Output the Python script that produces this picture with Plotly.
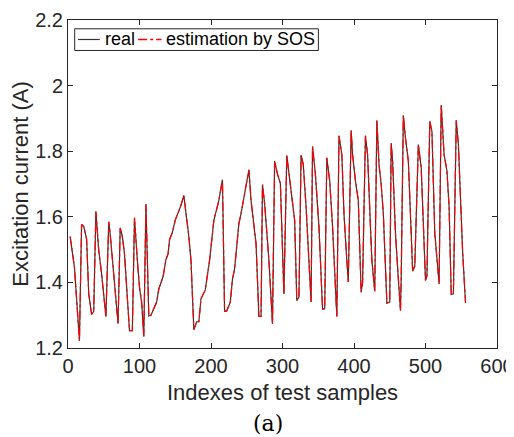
import plotly.graph_objects as go

sample_index = [3, 9, 16, 19, 22, 26, 29, 33, 36, 39, 43, 47, 53, 57, 59, 65, 70, 73, 76, 79,
                86, 90, 93, 97, 100, 103, 106, 109, 113, 116, 124, 127, 133, 137, 140, 142, 146, 150, 154, 158,
                162, 169, 172, 176, 180, 183, 186, 192, 198, 204, 211, 216, 219, 222, 227, 230, 233, 239, 242, 246,
                253, 256, 260, 263, 267, 270, 272, 275, 281, 284, 286, 289, 293, 297, 302, 306, 309, 313, 317, 320,
                323, 326, 329, 333, 340, 342, 346, 351, 356, 359, 362, 366, 370, 376, 379, 383, 386, 389, 392, 396,
                398, 402, 406, 410, 412, 416, 419, 423, 425, 429, 432, 435, 438, 441, 446, 450, 452, 454, 458, 462,
                465, 466, 469, 472, 476, 480, 482, 485, 490, 494, 496, 500, 502, 506, 509, 513, 519, 522, 526, 530,
                533, 536, 539, 543, 546, 550, 552, 556]

real_current = [1.540, 1.446, 1.222, 1.577, 1.570, 1.533, 1.365, 1.302, 1.312, 1.616, 1.497, 1.426, 1.296, 1.585, 1.548, 1.406, 1.274, 1.566, 1.540, 1.487,
                1.253, 1.253, 1.597, 1.467, 1.385, 1.340, 1.235, 1.638, 1.298, 1.300, 1.340, 1.380, 1.418, 1.470, 1.487, 1.530, 1.553, 1.590, 1.611, 1.635,
                1.665, 1.540, 1.467, 1.256, 1.280, 1.280, 1.350, 1.377, 1.467, 1.589, 1.650, 1.713, 1.312, 1.313, 1.340, 1.410, 1.441, 1.579, 1.610, 1.660,
                1.743, 1.650, 1.580, 1.518, 1.296, 1.296, 1.698, 1.640, 1.467, 1.355, 1.274, 1.770, 1.730, 1.702, 1.365, 1.787, 1.730, 1.670, 1.589, 1.345,
                1.355, 1.788, 1.760, 1.630, 1.340, 1.814, 1.730, 1.570, 1.319, 1.320, 1.780, 1.710, 1.570, 1.296, 1.847, 1.790, 1.609, 1.500, 1.401, 1.863,
                1.790, 1.710, 1.650, 1.370, 1.400, 1.847, 1.790, 1.570, 1.467, 1.373, 1.894, 1.760, 1.700, 1.610, 1.337, 1.340, 1.824, 1.770, 1.550, 1.411,
                1.314, 1.410, 1.909, 1.840, 1.770, 1.550, 1.434, 1.450, 1.820, 1.750, 1.630, 1.406, 1.420, 1.891, 1.860, 1.550, 1.396, 1.941, 1.790, 1.740,
                1.630, 1.363, 1.365, 1.894, 1.820, 1.590, 1.490, 1.337]

estimated_current = list(real_current)

series_names = ["real", "estimation by SOS"]
x_ticks = [0, 100, 200, 300, 400, 500, 600]
y_ticks = [1.2, 1.4, 1.6, 1.8, 2.0, 2.2]
y_tick_labels = ["1.2", "1.4", "1.6", "1.8", "2", "2.2"]

FONT = "Liberation Sans, Arial, sans-serif"
DARK = "#262626"
REAL_COLOR = "#333333"
EST_COLOR = "#ff0000"

fig = go.Figure()
fig.add_trace(go.Scatter(x=sample_index, y=real_current, mode="lines", name=series_names[0],
                         line=dict(color=REAL_COLOR, width=1.2), showlegend=False))
fig.add_trace(go.Scatter(x=sample_index, y=estimated_current, mode="lines", name=series_names[1],
                         line=dict(color=EST_COLOR, width=1.2, dash="dashdot"), showlegend=False))

axis_common = dict(showline=True, linecolor=DARK, linewidth=1, mirror="ticks",
                   ticks="inside", ticklen=5, tickcolor=DARK, tickwidth=1,
                   showgrid=False, zeroline=False, automargin=False,
                   tickfont=dict(family=FONT, size=20, color=DARK))

fig.update_xaxes(range=[0, 600], tickvals=x_ticks, **axis_common)
fig.update_yaxes(range=[1.2, 2.2], tickvals=y_ticks, ticktext=y_tick_labels, **axis_common)

# manual MATLAB-style legend box
ly = 0.9406
shapes = [
    dict(type="rect", xref="paper", yref="paper", x0=0.0156, x1=0.5836, y0=0.9071, y1=0.9732,
         line=dict(color=DARK, width=1), fillcolor="white", layer="above"),
    dict(type="line", xref="paper", yref="paper", x0=0.0233, x1=0.074, y0=ly, y1=ly,
         line=dict(color=REAL_COLOR, width=1.2), layer="above"),
    dict(type="line", xref="paper", yref="paper", x0=0.1634, x1=0.218, y0=ly, y1=ly,
         line=dict(color=EST_COLOR, width=1.5, dash="dashdot"), layer="above"),
]

# the page body adds an 8px offset, so the figure is 8px smaller
fig.update_layout(
    width=506, height=429,
    margin=dict(l=60, r=17, t=12, b=89, autoexpand=False),
    paper_bgcolor="white", plot_bgcolor="white",
    showlegend=False,
    shapes=shapes,
    annotations=[
        dict(text=series_names[0], xref="paper", yref="paper", x=0.0817, y=ly,
             xanchor="left", yanchor="middle", showarrow=False,
             font=dict(family=FONT, size=18, color="black")),
        dict(text=series_names[1], xref="paper", yref="paper", x=0.2234, y=ly,
             xanchor="left", yanchor="middle", showarrow=False,
             font=dict(family=FONT, size=18, color="black")),
        dict(text="Indexes of test samples", xref="paper", yref="paper", x=0.499, y=-0.135,
             xanchor="center", yanchor="middle", showarrow=False,
             font=dict(family=FONT, size=22, color=DARK)),
        dict(text="Excitation current (A)", xref="paper", yref="paper", x=-0.1127, y=0.50,
             xanchor="center", yanchor="middle", showarrow=False, textangle=-90,
             font=dict(family=FONT, size=22, color=DARK)),
        dict(text="(a)", xref="paper", yref="paper", x=0.466, y=-0.229,
             xanchor="center", yanchor="middle", showarrow=False,
             font=dict(family="DejaVu Serif, serif", size=22, color="black")),
    ],
)

fig.write_html("out.html")
